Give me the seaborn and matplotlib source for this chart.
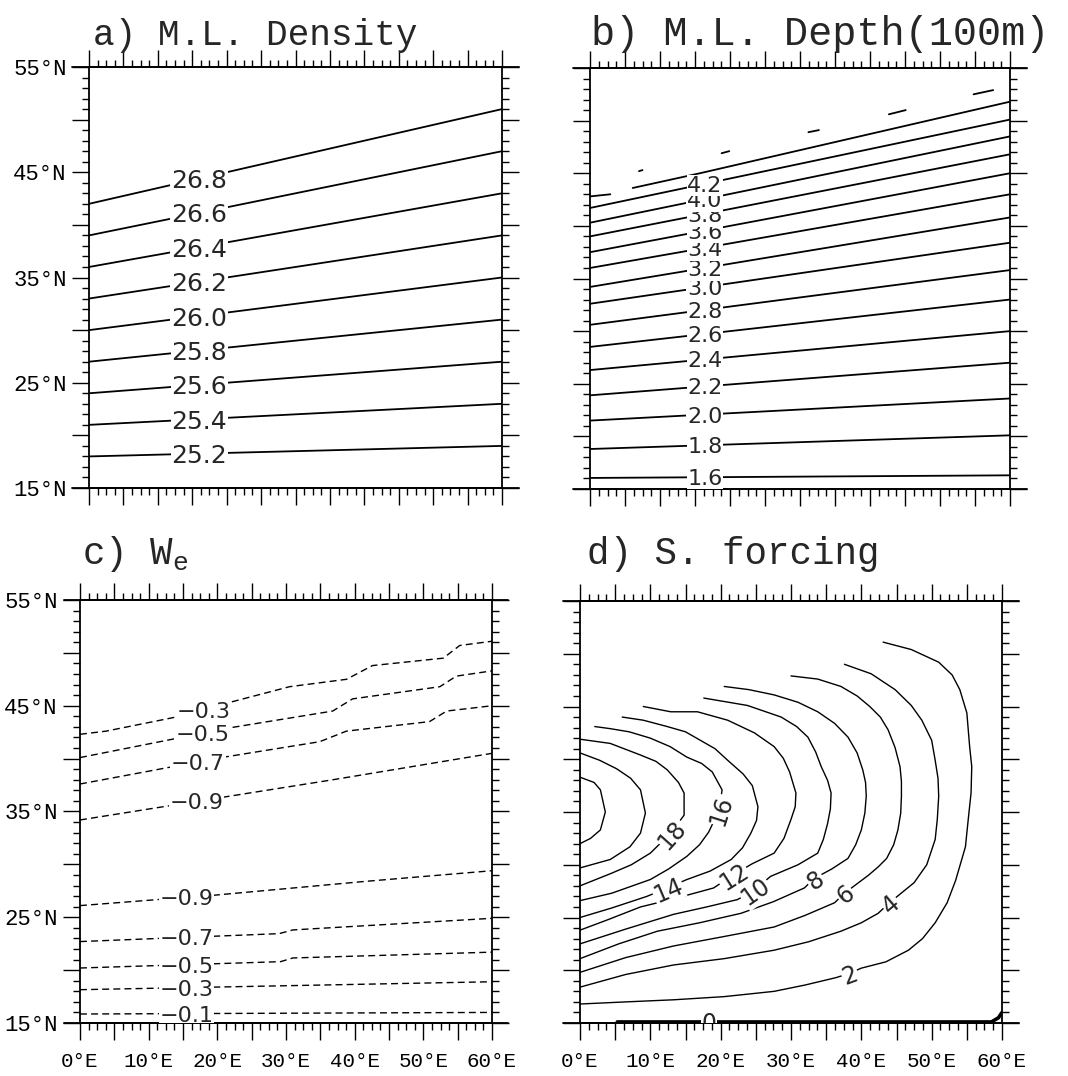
import numpy as np
import pandas as pd
import matplotlib
matplotlib.use("Agg")
import matplotlib.pyplot as plt
import seaborn as sns
from matplotlib.ticker import MultipleLocator, FuncFormatter

# ---------------- data ----------------
# a) mixed layer density: contour latitude at 0E and at 60E
a_levels = [25.2, 25.4, 25.6, 25.8, 26.0, 26.2, 26.4, 26.6, 26.8]
a_lat_west = [18.0, 21.0, 24.0, 27.0, 30.0, 33.0, 36.0, 39.0, 42.0]
a_lat_east = [19.0, 23.0, 27.0, 31.0, 35.0, 39.0, 43.0, 47.0, 51.0]

# b) mixed layer depth (100 m)
b_levels = [1.6, 1.8, 2.0, 2.2, 2.4, 2.6, 2.8, 3.0, 3.2, 3.4, 3.6, 3.8, 4.0, 4.2]
b_lat_west = [16.05, 18.8, 21.5, 23.9, 26.3, 28.5, 30.6, 32.6, 34.2, 36.0, 37.5, 39.0, 40.3, 41.7]
b_lat_east = [16.3, 20.1, 23.6, 27.0, 30.0, 33.0, 35.8, 38.4, 40.8, 43.0, 45.0, 46.8, 48.5, 50.1]
# unlabelled broken contours near the outcrop line
b_44_pieces = [[(0.0, 42.8), (2.9, 43.0)], [(6.1, 43.6), (15.7, 45.0), (60.0, 51.8)]]
b_46_pieces = [[(7.0, 45.2), (7.5, 45.3)], [(18.8, 46.9), (19.9, 47.1)],
               [(31.2, 48.9), (32.7, 49.1)], [(42.7, 50.6), (45.1, 51.0)],
               [(54.8, 52.5), (57.6, 52.9)]]

# c) entrainment velocity W_e (dashed, negative)
c_labels = ["-0.1", "-0.3", "-0.5", "-0.7", "-0.9", "-0.9", "-0.7", "-0.5", "-0.3"]
c_label_lon = [15.5, 15.5, 15.5, 15.5, 15.5, 17.0, 17.2, 17.8, 18.0]
c_m01 = [(0, 15.85), (60, 16.0)]
c_m03 = [(0, 18.15), (60, 18.9)]
c_m05 = [(0, 20.2), (29.2, 20.8), (31.0, 21.15), (60, 21.7)]
c_m07 = [(0, 22.7), (29.0, 23.45), (31.0, 23.8), (60, 24.9)]
c_m09 = [(0, 26.1), (19.8, 27.1), (41.7, 28.4), (60, 29.4)]
c_m09n = [(0, 34.2), (36.8, 38.0), (60, 40.5)]
c_m07n = [(0, 37.6), (20.6, 40.1), (34.9, 41.6), (38.8, 42.6), (50.9, 43.5),
          (53.4, 44.5), (60, 45.0)]
c_m05n = [(0, 40.1), (21.7, 42.9), (36.8, 44.5), (39.7, 45.65), (52.4, 46.8),
          (54.8, 47.8), (60, 48.3)]
c_m03n = [(0, 42.3), (3.8, 42.6), (14.5, 44.0), (21.7, 45.3), (30.5, 46.8),
          (38.8, 47.5), (42.6, 48.8), (52.9, 49.5), (55.3, 50.7), (60, 51.1)]

# d) S. forcing
d22 = [(0, 38.3), (2.0, 37.8), (2.9, 37.1), (3.6, 35.0), (2.9, 33.3), (1.5, 32.5), (0, 32.0)]
d20 = [(0, 40.6), (2.8, 39.9), (5.2, 39.1), (7.2, 38.2), (8.6, 37.1), (9.3, 34.9),
       (8.6, 33.0), (7.1, 31.7), (4.3, 30.5), (0, 29.7)]
d18 = [(0, 41.9), (4.3, 41.5), (8.6, 40.4), (10.8, 39.8), (12.4, 39.0), (14.0, 37.8),
       (14.8, 36.8), (14.8, 34.7), (12.9, 33.0), (10.0, 31.1), (7.3, 30.0), (4.5, 29.2),
       (0, 28.0)]
d16 = [(2.1, 43.1), (4.3, 42.9), (7.0, 42.6), (10.0, 42.0), (12.8, 41.2), (15.2, 40.2),
       (17.3, 39.6), (18.8, 38.8), (20.2, 37.1), (19.8, 35.2), (18.3, 33.1), (17.0, 31.9),
       (15.2, 30.8), (12.6, 29.6), (10.0, 28.6), (4.5, 27.3), (0, 26.6)]
d14 = [(6.0, 44.0), (9.0, 43.7), (12.4, 43.1), (15.0, 42.6), (17.1, 41.8), (19.2, 41.0),
       (21.0, 39.9), (23.2, 38.6), (24.5, 37.5), (25.3, 35.5), (25.1, 34.2), (24.3, 33.0),
       (23.1, 31.6), (21.5, 30.5), (18.5, 29.4), (15.2, 28.6), (12.4, 27.8), (9.5, 27.0),
       (4.5, 25.9), (0, 25.0)]
d12 = [(9.0, 45.0), (12.9, 44.5), (16.7, 44.5), (21.0, 43.7), (24.8, 42.5), (27.6, 41.2),
       (28.9, 40.1), (29.8, 38.8), (30.7, 36.8), (30.6, 35.5), (30.0, 34.3), (29.0, 32.5),
       (27.6, 31.1), (24.5, 30.1), (21.7, 29.0), (19.0, 27.8), (13.5, 26.8), (8.6, 26.0),
       (4.0, 24.8), (0, 23.8)]
d10 = [(17.6, 45.8), (23.8, 45.1), (28.6, 44.0), (30.8, 43.1), (32.4, 42.1), (33.5, 40.7),
       (34.3, 39.3), (35.2, 38.0), (35.7, 36.8), (35.6, 35.3), (35.2, 33.9), (34.6, 32.4),
       (33.8, 31.1), (31.0, 30.0), (27.1, 28.9), (24.8, 27.6), (22.4, 26.7), (18.0, 26.0),
       (13.3, 25.3), (6.5, 23.9), (0, 22.5)]
d8 = [(20.5, 46.9), (24.0, 46.6), (27.6, 46.1), (31.0, 45.4), (33.8, 44.5), (36.2, 43.4),
      (38.1, 42.1), (39.4, 40.6), (40.2, 39.0), (40.6, 37.8), (40.7, 36.5), (40.5, 34.9),
      (40.0, 33.3), (39.2, 31.9), (38.1, 30.6), (35.8, 29.6), (33.3, 28.7), (31.9, 27.8),
      (27.5, 26.5), (22.9, 25.4), (17.0, 24.5), (11.0, 23.7), (5.5, 22.5), (0, 21.1)]
d6 = [(30.0, 47.9), (33.8, 47.6), (37.1, 46.9), (39.4, 46.0), (41.2, 45.0), (42.7, 44.0),
      (43.8, 42.8), (44.8, 41.1), (45.5, 39.3), (45.7, 37.9), (45.7, 36.5), (45.6, 34.9),
      (45.2, 33.3), (44.6, 31.9), (43.6, 30.6), (42.4, 29.8), (41.0, 29.0), (37.6, 27.3),
      (36.2, 26.4), (32.0, 25.2), (27.6, 24.1), (20.5, 23.2), (13.3, 22.3), (6.5, 21.2),
      (0, 19.8)]
d4 = [(37.6, 49.0), (41.4, 48.1), (44.8, 46.6), (47.1, 45.1), (48.6, 43.7), (50.0, 41.8),
      (50.5, 39.9), (50.9, 38.2), (51.0, 36.5), (50.8, 34.3), (50.5, 32.4), (49.3, 30.0),
      (47.5, 28.3), (44.0, 26.4), (42.4, 25.4), (40.0, 24.5), (37.1, 23.7), (32.5, 22.7),
      (27.6, 21.9), (20.5, 21.1), (13.3, 20.5), (6.5, 19.6), (0, 18.4)]
d2 = [(43.1, 51.1), (47.1, 50.4), (51.0, 49.2), (52.9, 48.0), (54.0, 46.6), (55.0, 44.4),
      (55.4, 41.2), (55.7, 39.3), (55.6, 36.8), (55.2, 34.3), (54.8, 31.7), (53.4, 28.5),
      (52.2, 26.4), (50.5, 24.5), (48.7, 23.0), (46.7, 21.9), (43.5, 20.8), (40.0, 20.2),
      (38.3, 19.7), (36.4, 19.3), (32.0, 18.6), (27.6, 18.0), (20.5, 17.5), (13.3, 17.2),
      (6.5, 17.0), (0, 16.8)]
d0 = [(5.3, 15.1), (58.5, 15.1), (59.5, 15.5), (60, 16.0)]
d_labels = ["18", "16", "14", "12", "10", "8", "6", "4", "2", "0"]
d_label_lon = [12.9, 19.8, 12.4, 21.7, 24.8, 33.3, 37.6, 44.0, 38.3, 18.3]
d_label_lat = [33.0, 35.2, 27.8, 29.0, 27.6, 28.7, 27.3, 26.4, 19.7, 15.15]

# ---------------- style ----------------
sns.set_style("ticks")
plt.rcParams["font.family"] = ["Liberation Mono", "DejaVu Sans"]
MONO = "Liberation Mono"
SANS = "DejaVu Sans"
W, H = 1068, 1076


def frame(lines):
    rows = []
    for unit, pts in enumerate(lines):
        for lon, lat in pts:
            rows.append({"unit": unit, "lon": lon, "lat": lat})
    return pd.DataFrame(rows)


def draw(ax, lines, **kws):
    sns.lineplot(data=frame(lines), x="lon", y="lat", units="unit", estimator=None,
                 sort=False, color="black", ax=ax, **kws)
    ax.set_xlabel("")
    ax.set_ylabel("")


def label(ax, x, y, s, size, rotation=0.0):
    ax.text(x, y, s, ha="center", va="center_baseline", fontsize=size, family=SANS,
            rotation=rotation, rotation_mode="anchor", zorder=5, clip_on=True,
            bbox=dict(fc="white", ec="none", pad=0.5))


def lat_at(pts, lon):
    xs, ys = zip(*pts)
    return float(np.interp(lon, xs, ys))


def angle_at(ax, pts, x, y):
    arr = np.array(pts)
    i = int(np.argmin((arr[:, 0] - x) ** 2 + (arr[:, 1] - y) ** 2))
    p = ax.transData.transform(arr[max(i - 1, 0)])
    q = ax.transData.transform(arr[min(i + 1, len(arr) - 1)])
    ang = np.degrees(np.arctan2(q[1] - p[1], q[0] - p[0]))
    if ang > 90:
        ang -= 180
    if ang < -90:
        ang += 180
    return ang


def style_axes(ax, left_labels, bottom_labels):
    ax.set_xlim(0, 60)
    ax.set_ylim(15, 55)
    ax.xaxis.set_major_locator(MultipleLocator(5))
    ax.xaxis.set_minor_locator(MultipleLocator(1.25))
    ax.yaxis.set_major_locator(MultipleLocator(5))
    ax.yaxis.set_minor_locator(MultipleLocator(1))
    ax.xaxis.set_major_formatter(FuncFormatter(
        lambda v, p: f"{int(round(v))}°E" if round(v) % 10 == 0 else ""))
    ax.yaxis.set_major_formatter(FuncFormatter(
        lambda v, p: f"{int(round(v))}°N" if (round(v) - 15) % 10 == 0 else ""))
    ax.tick_params(which="both", direction="out", top=True, right=True,
                   bottom=True, left=True, color="black", width=1.0)
    ax.tick_params(which="major", length=12)
    ax.tick_params(which="minor", length=5)
    ax.tick_params(axis="x", which="major", pad=9, labelsize=15)
    ax.tick_params(axis="y", which="major", pad=4, labelsize=16)
    ax.tick_params(labelbottom=bottom_labels, labelleft=left_labels,
                   labeltop=False, labelright=False,
                   labelfontfamily=MONO, labelcolor="black")
    for sp in ax.spines.values():
        sp.set_linewidth(1.3)
        sp.set_color("black")
    for yy in (0, 1):
        ax.plot([-0.04, 1.04], [yy, yy], transform=ax.transAxes, color="black",
                lw=1.3, clip_on=False)


def add_axes(x, top, w, h):
    return fig.add_axes([x / W, 1 - (top + h) / H, w / W, h / H])


fig = plt.figure(figsize=(W / 100, H / 100), dpi=100)
ax_a = add_axes(89, 67, 413, 421)
ax_b = add_axes(590, 68, 420, 421)
ax_c = add_axes(80, 600, 412, 423)
ax_d = add_axes(580, 601, 422, 422)

# ---- a) M.L. Density
a_lines = [[(0, w), (60, e)] for w, e in zip(a_lat_west, a_lat_east)]
draw(ax_a, a_lines, lw=1.3)
style_axes(ax_a, True, False)
for lev, pts in zip(a_levels, a_lines):
    label(ax_a, 16.0, lat_at(pts, 16.0), f"{lev:.1f}", 18)

# ---- b) M.L. Depth
b_lines = [[(0, w), (60, e)] for w, e in zip(b_lat_west, b_lat_east)]
draw(ax_b, b_lines + b_44_pieces + b_46_pieces, lw=1.3)
style_axes(ax_b, False, False)
for lev, pts in zip(b_levels, b_lines):
    label(ax_b, 16.4, lat_at(pts, 16.4), f"{lev:.1f}", 16)

# ---- c) W_e
c_lines = [c_m01, c_m03, c_m05, c_m07, c_m09, c_m09n, c_m07n, c_m05n, c_m03n]
draw(ax_c, c_lines, lw=1.0, linestyle=(0, (5, 3)))
style_axes(ax_c, True, True)
for s, lon, pts in zip(c_labels, c_label_lon, c_lines):
    label(ax_c, lon, lat_at(pts, lon), s.replace("-", "\u2212"), 16)

# ---- d) S. forcing
d_lines = [d22, d20, d18, d16, d14, d12, d10, d8, d6, d4, d2]
draw(ax_d, d_lines, lw=1.0)
draw(ax_d, [d0], lw=2.6)
style_axes(ax_d, False, True)
d_label_lines = [d18, d16, d14, d12, d10, d8, d6, d4, d2, d0]
for s, x, y, pts in zip(d_labels, d_label_lon, d_label_lat, d_label_lines):
    rot = angle_at(ax_d, pts, x, y) if s != "0" else 0.0
    label(ax_d, x, y, s, 17, rot)

# ---- panel titles
fig.text(93 / W, 1 - 45 / H, "a) M.L. Density", family=MONO, fontsize=26, va="baseline")
fig.text(591 / W, 1 - 45 / H, "b) M.L. Depth(100m)", family=MONO, fontsize=29, va="baseline")
fig.text(82 / W, 1 - 564 / H, "c) W$_\\mathregular{e}$", family=MONO, fontsize=27, va="baseline")
fig.text(587 / W, 1 - 564 / H, "d) S. forcing", family=MONO, fontsize=27, va="baseline")

fig.savefig("out.png", dpi=100, facecolor="white")
